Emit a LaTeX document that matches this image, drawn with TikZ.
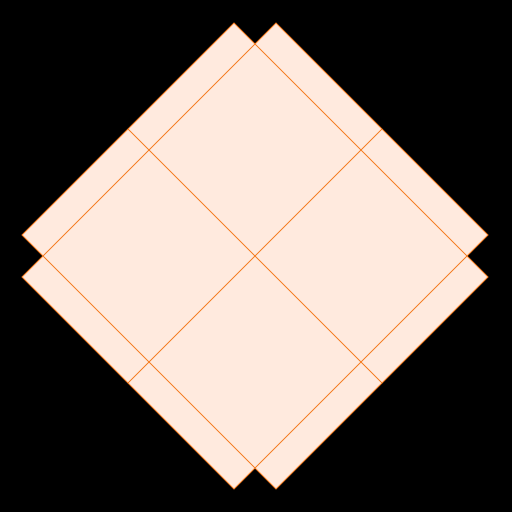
\documentclass[tikz,border=0pt]{standalone}
\definecolor{panefill}{RGB}{255,234,222}
\definecolor{paneline}{RGB}{245,128,40}
\begin{document}
\begin{tikzpicture}[x=1pt,y=-1pt,
  pane/.style={fill=panefill,draw=none},
  edge/.style={draw=paneline,line width=0.9pt,line join=miter}]
\fill[black] (0,0) rectangle (512,512);
\useasboundingbox (0,0) rectangle (512,512);
% rectangle A corners
\coordinate (a1) at (234,23);
\coordinate (a2) at (488,277);
\coordinate (a3) at (276,489);
\coordinate (a4) at (22,235);
% rectangle B corners
\coordinate (b1) at (276,23);
\coordinate (b2) at (488,235);
\coordinate (b3) at (234,489);
\coordinate (b4) at (22,277);
% midline end points
\coordinate (ma1) at (128,129);
\coordinate (ma2) at (382,383);
\coordinate (mb1) at (382,129);
\coordinate (mb2) at (128,383);
\path[pane] (a1) -- (a2) -- (a3) -- (a4) -- cycle;
\path[pane] (b1) -- (b2) -- (b3) -- (b4) -- cycle;
\draw[edge] (a1) -- (a2) -- (a3) -- (a4) -- cycle;
\draw[edge] (b1) -- (b2) -- (b3) -- (b4) -- cycle;
\draw[edge] (ma1) -- (ma2);
\draw[edge] (mb1) -- (mb2);
\end{tikzpicture}
\end{document}
